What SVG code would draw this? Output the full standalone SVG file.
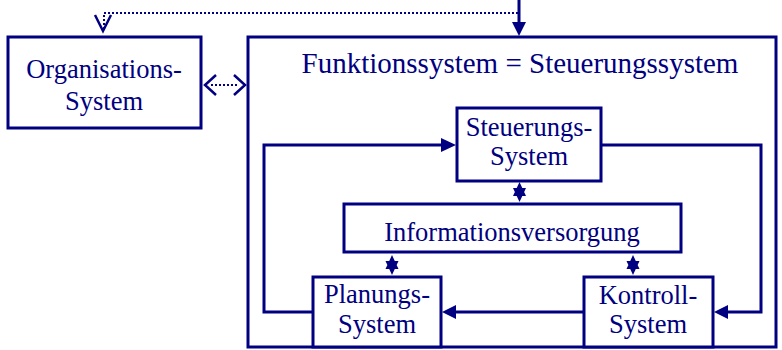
<svg xmlns="http://www.w3.org/2000/svg" width="782" height="350" viewBox="0 0 782 350">
<style>
.box{fill:#fff;stroke:#000080;stroke-width:3}
.ln{fill:none;stroke:#000080;stroke-width:3}
.dot{fill:none;stroke:#000080;stroke-width:2;stroke-dasharray:2 2}
.open{fill:none;stroke:#000080;stroke-width:2.5}
.fill{fill:#000080;stroke:none}
.lbl{fill:#000080;text-anchor:middle}
.t22{font-size:26.5px}
.t24{font-size:29px}
</style>
<defs>
<!-- two overlapping heads: exchange in both directions -->
<path id="star" d="M0,-10 L6.5,4 L-6.5,4 Z M0,10 L-6.5,-4 L6.5,-4 Z" fill="#000080"/>
</defs>

<g font-family="Liberation Serif, Times New Roman, serif">
<g id="organisations">
<rect class="box" x="8" y="37" width="193" height="91"/>
<text class="lbl t22" x="104" y="78">Organisations-</text>
<text class="lbl t22" x="104" y="110">System</text>
</g>

<g id="funktionssystem">
<rect class="box" x="248" y="37" width="528" height="310"/>
<text class="lbl t24" x="520" y="73">Funktionssystem = Steuerungssystem</text>
</g>

<g id="steuerung">
<rect class="box" x="457" y="108" width="144" height="73"/>
<text class="lbl t22" x="529" y="136">Steuerungs-</text>
<text class="lbl t22" x="529" y="165">System</text>
</g>

<g id="information">
<rect class="box" x="344" y="204" width="337" height="48"/>
<text class="lbl t22" x="512" y="241">Informationsversorgung</text>
</g>

<g id="planung">
<rect class="box" x="313" y="277" width="128" height="70"/>
<text class="lbl t22" x="377" y="303">Planungs-</text>
<text class="lbl t22" x="377" y="333">System</text>
</g>

<g id="kontrolle">
<rect class="box" x="584" y="277" width="129" height="70"/>
<text class="lbl t22" x="648" y="304">Kontroll-</text>
<text class="lbl t22" x="648" y="333">System</text>
</g>
</g>

<g id="connectors">
<!-- feedback from the system to the organisation -->
<path class="ln" d="M519,0 V24"/>
<path class="fill" d="M512,22 L526,22 L519,36 Z"/>
<path class="dot" d="M518,13 H104 V30"/>
<path class="open" d="M95,15 L103,31 L111,15"/>
<!-- organisation to function system -->
<path class="dot" d="M211,85 H239"/>
<path class="open" d="M216,75 L205,85 L216,95 M234,75 L245,85 L234,95"/>
<!-- control loop -->
<path class="ln" d="M313,312 H264 V145 H443"/>
<path class="fill" d="M441,138 L456,145 L441,152 Z"/>
<path class="ln" d="M601,145 H761 V312 H727"/>
<path class="fill" d="M728,305 L714,312 L728,319 Z"/>
<path class="ln" d="M584,312 H456"/>
<path class="fill" d="M456,305 L442,312 L456,319 Z"/>
<!-- exchange with the information supply -->
<use href="#star" x="519.5" y="192"/>
<use href="#star" x="392" y="265"/>
<use href="#star" x="633" y="265"/>
</g>
</svg>
